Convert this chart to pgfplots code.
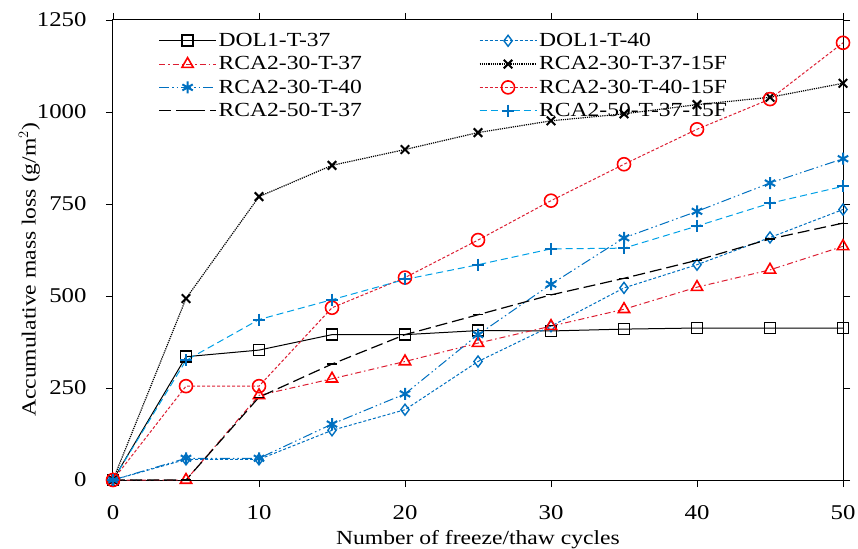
\documentclass[border=0pt]{standalone}
\usepackage{pgfplots}
\pgfplotsset{compat=1.18}
\usepackage{fontspec}
\setmainfont{Liberation Serif}[FakeStretch=1.18]
\usetikzlibrary{calc}
\definecolor{cblue}{RGB}{0,112,192}
\definecolor{clight}{RGB}{0,160,230}
\definecolor{cred}{RGB}{255,0,0}
\definecolor{cdred}{RGB}{220,30,50}
\begin{document}
\begin{tikzpicture}
\begin{axis}[name=ax,
  scale only axis, width=730pt, height=460pt,
  xmin=0, xmax=50, ymin=0, ymax=1250,
  xtick={0,10,...,50}, ytick={0,250,...,1250},
  tick align=outside,
  major tick length=7pt,
  tick style={black, line width=0.8pt},
  axis line style={line width=1pt},
  /pgf/number format/assume math mode=true,
  /pgf/number format/set thousands separator={},
  ticklabel style={font=\fontsize{21}{24}\selectfont},
  xticklabel style={yshift=-15pt},
  yticklabel style={xshift=-16pt},
  label style={font=\fontsize{20}{24}\selectfont},
  xlabel={Number of freeze/thaw cycles},
  ylabel={Accumulative mass loss (g/m$^2$)},
  xlabel style={yshift=-4pt},
  ylabel style={yshift=-10pt, xshift=-20pt},
  legend columns=2,
  legend cell align=left,
  legend style={draw=none, fill=none, at={(rel axis cs:0.058,0.98)}, anchor=north west,
    font=\fontsize{20}{22}\selectfont, row sep=4.5pt,
    /tikz/every even column/.append style={column sep=115pt}},
  legend image code/.code={\draw[mark repeat=2,mark phase=2] plot coordinates {(0cm,0cm) (1cm,0cm) (2cm,0cm)};},
  clip=false,
]
\addplot[black, line width=1pt, mark=square, mark size=5.5pt, mark options={solid, line width=1.6pt}]
 coordinates {(0,0)(5,335)(10,353)(15,395)(20,395)(25,406)(30,405)(35,410)(40,413)(45,413)(50,413)};
\addlegendentry{DOL1-T-37}
\addplot[cblue, line width=1pt, densely dashed, mark=diamond, mark size=5.5pt, mark options={solid, line width=1.4pt}]
 coordinates {(0,0)(5,56)(10,56)(15,135)(20,191)(25,322)(30,418)(35,522)(40,585)(45,659)(50,735)};
\addlegendentry{DOL1-T-40}
\addplot[cdred, line width=1pt, dash pattern=on 6pt off 3pt on 1.5pt off 3pt, mark=triangle, mark size=6.5pt, mark options={solid, cred, line width=1.6pt}]
 coordinates {(0,0)(5,0)(10,230)(15,275)(20,322)(25,372)(30,418)(35,464)(40,524)(45,571)(50,635)};
\addlegendentry{RCA2-30-T-37}
\addplot[black, line width=1.2pt, densely dotted, mark=x, mark size=6pt, mark options={solid, line width=2pt}]
 coordinates {(0,0)(5,493)(10,770)(15,855)(20,898)(25,944)(30,976)(35,995)(40,1020)(45,1040)(50,1078)};
\addlegendentry{RCA2-30-T-37-15F}
\addplot[cblue, line width=1pt, dash pattern=on 10pt off 3pt on 1.5pt off 3pt on 1.5pt off 3pt, mark=asterisk, mark size=6pt, mark options={solid, line width=2pt}]
 coordinates {(0,0)(5,59)(10,59)(15,152)(20,234)(25,395)(30,532)(35,658)(40,730)(45,807)(50,873)};
\addlegendentry{RCA2-30-T-40}
\addplot[cdred, line width=1pt, densely dashed, mark=o, mark size=6.5pt, mark options={solid, cred, line width=1.6pt}]
 coordinates {(0,0)(5,255)(10,255)(15,468)(20,550)(25,652)(30,759)(35,858)(40,953)(45,1035)(50,1188)};
\addlegendentry{RCA2-30-T-40-15F}
\addplot[black, line width=1.2pt, dash pattern=on 12pt off 5pt, mark=-, mark size=5pt, mark options={solid, line width=1.2pt}]
 coordinates {(0,0)(5,0)(10,225)(15,315)(20,395)(25,449)(30,503)(35,548)(40,597)(45,655)(50,698)};
\addlegendentry{RCA2-50-T-37}
\addplot[clight, line width=1pt, dash pattern=on 7pt off 4pt, mark=+, mark size=6pt, mark options={solid, cblue, line width=2pt}]
 coordinates {(0,0)(5,325)(10,436)(15,490)(20,545)(25,585)(30,628)(35,630)(40,690)(45,752)(50,798)};
\addlegendentry{RCA2-50-T-37-15F}
\end{axis}
\pgfresetboundingbox
\useasboundingbox ($(ax.south west)+(-113pt,-68pt)$) rectangle ($(ax.north east)+(15pt,20pt)$);
\end{tikzpicture}
\end{document}
